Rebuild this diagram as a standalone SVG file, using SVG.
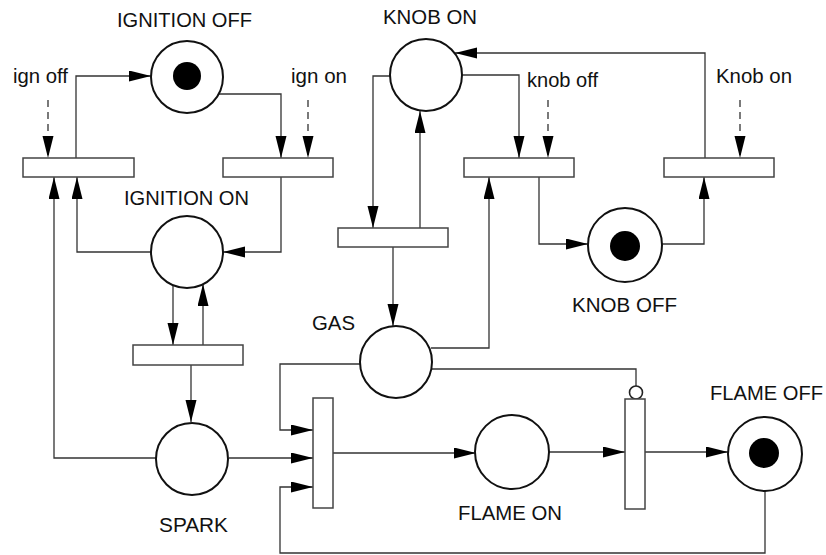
<svg xmlns="http://www.w3.org/2000/svg" width="826" height="555" viewBox="0 0 826 555">
<style>
.pl{fill:#fff;stroke:#111;stroke-width:2}
.tok{fill:#000}
.tr{fill:#fff;stroke:#444;stroke-width:1.5}
.c{fill:none;stroke:#333;stroke-width:1.3}
.d{stroke-dasharray:7 5}
.a{marker-end:url(#ah)}
text{font-family:"Liberation Sans",Arial,sans-serif;font-size:19.5px;fill:#111}
</style>
<defs>
<marker id="ah" markerUnits="userSpaceOnUse" markerWidth="22" markerHeight="12" refX="22" refY="5.5" orient="auto">
<path d="M0,0 L22,5.5 L0,11 z" fill="#000"/>
</marker>
</defs>
<rect width="826" height="555" fill="#fff"/>
<g id="connectors">
<path class="c a" d="M76,158 V76 H151"/>
<path class="c a" d="M219,94 H281 V158"/>
<path class="c d a" d="M48,100 V158"/>
<path class="c d a" d="M308,100 V158"/>
<path class="c a" d="M281,177 V252 H223"/>
<path class="c a" d="M151,252 H77 V177"/>
<path class="c a" d="M156,458 H54 V177"/>
<path class="c a" d="M173,285 V345"/>
<path class="c a" d="M203,345 V284"/>
<path class="c a" d="M191,365 V422"/>
<path class="c a" d="M229,458 H313"/>
<path class="c a" d="M360,364 H280 V430 H313"/>
<path class="c a" d="M765,491 V553 H280 V487 H313"/>
<path class="c a" d="M333,453 H476"/>
<path class="c a" d="M549,452 H625"/>
<path class="c a" d="M645,452 H728"/>
<path class="c" d="M431,369 H636 V386"/>
<circle cx="636" cy="392.5" r="6.5" fill="#fff" stroke="#222" stroke-width="1.6"/>
<path class="c a" d="M390,76 H373 V228"/>
<path class="c a" d="M420,228 V111"/>
<path class="c a" d="M393,247 V326"/>
<path class="c a" d="M462,75 H519 V158"/>
<path class="c a" d="M431,348 H489 V177"/>
<path class="c d a" d="M548,100 V158"/>
<path class="c a" d="M539,177 V244 H588"/>
<path class="c a" d="M662,244 H704 V177"/>
<path class="c a" d="M705,158 V53 H455"/>
<path class="c d a" d="M740,100 V158"/>
</g>
<g id="ignition_off">
<circle class="pl" cx="187" cy="77" r="36"/>
<circle class="tok" cx="187" cy="76" r="14"/>
<text x="117" y="27" textLength="135" lengthAdjust="spacingAndGlyphs">IGNITION OFF</text>
</g>
<g id="ignition_on">
<circle class="pl" cx="187" cy="252" r="36"/>
<text x="124" y="205" textLength="125" lengthAdjust="spacingAndGlyphs">IGNITION ON</text>
</g>
<g id="knob_on">
<circle class="pl" cx="426" cy="75" r="36"/>
<text x="383" y="24" textLength="94" lengthAdjust="spacingAndGlyphs">KNOB ON</text>
</g>
<g id="knob_off">
<circle class="pl" cx="625" cy="245" r="37"/>
<circle class="tok" cx="625" cy="246" r="15"/>
<text x="572" y="312" textLength="105" lengthAdjust="spacingAndGlyphs">KNOB OFF</text>
</g>
<g id="gas">
<circle class="pl" cx="396" cy="362" r="36"/>
<text x="312" y="330" textLength="43" lengthAdjust="spacingAndGlyphs">GAS</text>
</g>
<g id="spark">
<circle class="pl" cx="192" cy="459" r="36"/>
<text x="159" y="532" textLength="69" lengthAdjust="spacingAndGlyphs">SPARK</text>
</g>
<g id="flame_on">
<circle class="pl" cx="512" cy="452" r="37"/>
<text x="458" y="520" textLength="104" lengthAdjust="spacingAndGlyphs">FLAME ON</text>
</g>
<g id="flame_off">
<circle class="pl" cx="765" cy="454" r="37"/>
<circle class="tok" cx="764" cy="453" r="15"/>
<text x="710" y="400" textLength="113" lengthAdjust="spacingAndGlyphs">FLAME OFF</text>
</g>
<g id="t_ign_off">
<rect class="tr" x="23" y="158" width="111" height="19"/>
<text x="13" y="83" textLength="55" lengthAdjust="spacingAndGlyphs">ign off</text>
</g>
<g id="t_ign_on">
<rect class="tr" x="223" y="158" width="110" height="19"/>
<text x="291" y="83" textLength="56" lengthAdjust="spacingAndGlyphs">ign on</text>
</g>
<g id="t_spark">
<rect class="tr" x="133" y="345" width="110" height="20"/>
</g>
<g id="t_gas">
<rect class="tr" x="338" y="228" width="110" height="19"/>
</g>
<g id="t_knob_off">
<rect class="tr" x="464" y="158" width="110" height="19"/>
<text x="527" y="87" textLength="71" lengthAdjust="spacingAndGlyphs">knob off</text>
</g>
<g id="t_knob_on">
<rect class="tr" x="664" y="158" width="110" height="19"/>
<text x="716" y="83" textLength="76" lengthAdjust="spacingAndGlyphs">Knob on</text>
</g>
<g id="t_fire">
<rect class="tr" x="313" y="398" width="20" height="110"/>
</g>
<g id="t_extinguish">
<rect class="tr" x="625" y="399" width="20" height="110"/>
</g>
</svg>
